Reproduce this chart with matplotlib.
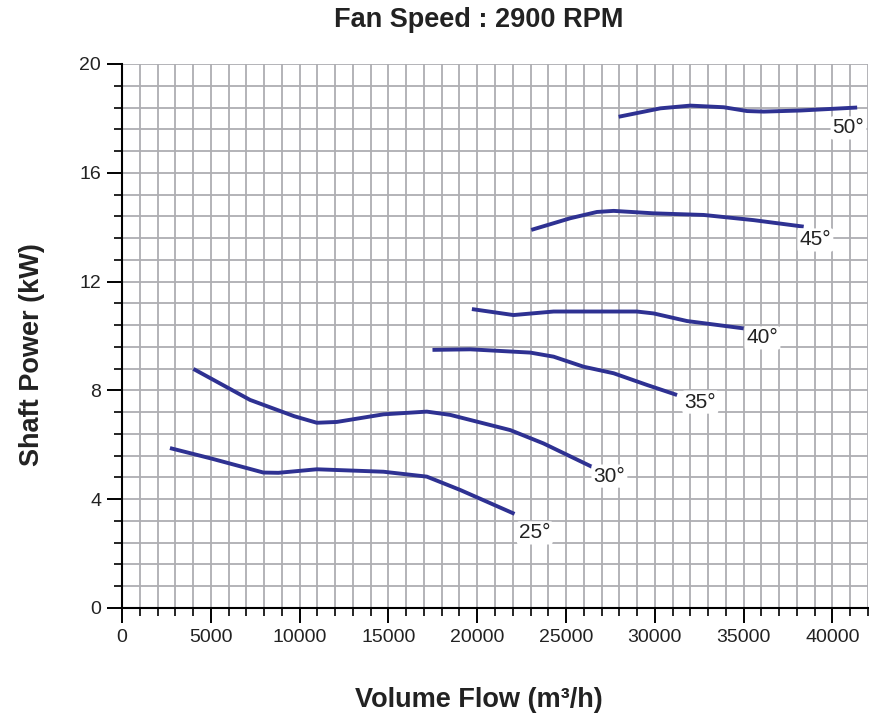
import matplotlib
matplotlib.use("Agg")
import matplotlib.pyplot as plt
from matplotlib.ticker import MultipleLocator
from matplotlib import font_manager

# ---- data ----
flow_25 = [2700, 5000, 7960, 8800, 10970, 14720, 17160, 19040, 22100]
power_25 = [5.88, 5.50, 4.98, 4.97, 5.10, 5.01, 4.83, 4.34, 3.46]

flow_30 = [4020, 7210, 9700, 10970, 12090, 14720, 17160, 18480, 21860, 23730, 26460]
power_30 = [8.79, 7.65, 7.05, 6.81, 6.84, 7.12, 7.22, 7.10, 6.54, 6.05, 5.19]

flow_35 = [17480, 19610, 22990, 24300, 25990, 27680, 29560, 31250]
power_35 = [9.49, 9.51, 9.39, 9.24, 8.87, 8.63, 8.20, 7.83]

flow_40 = [19700, 22040, 24300, 28980, 29930, 31810, 35000]
power_40 = [10.99, 10.77, 10.90, 10.90, 10.83, 10.55, 10.28]

flow_45 = [23040, 25240, 26740, 27680, 29930, 32750, 35560, 38380]
power_45 = [13.90, 14.33, 14.56, 14.60, 14.51, 14.45, 14.26, 14.02]

flow_50 = [27960, 30310, 32000, 33880, 35190, 36130, 38200, 41390]
power_50 = [18.06, 18.37, 18.47, 18.41, 18.27, 18.25, 18.29, 18.40]

curve_labels = ["25°", "30°", "35°", "40°", "45°", "50°"]
label_x = [23240, 27440, 32560, 36060, 39040, 40900]
label_y = [2.76, 4.85, 7.57, 9.93, 13.53, 17.65]

x_ticks = [0, 5000, 10000, 15000, 20000, 25000, 30000, 35000, 40000]
y_ticks = [0, 4, 8, 12, 16, 20]

# ---- fonts ----
def has_font(name):
    try:
        font_manager.findfont(name, fallback_to_default=False)
        return True
    except Exception:
        return False

if has_font("Liberation Sans Narrow"):
    tick_family, tick_size = "Liberation Sans Narrow", 16
else:
    tick_family, tick_size = "Liberation Sans", 14
bold_family = "Liberation Sans"

line_color = "#2e3192"
grid_color = "#aeaeb2"
text_color = "#222222"

fig = plt.figure(figsize=(8.69, 7.2), dpi=100)
ax = fig.add_axes([122 / 869, 1 - 608 / 720, (868 - 122) / 869, (608 - 64) / 720])

series = [(flow_25, power_25), (flow_30, power_30), (flow_35, power_35),
          (flow_40, power_40), (flow_45, power_45), (flow_50, power_50)]
for (fx, py) in series:
    ax.plot(fx, py, color=line_color, lw=2.8, solid_capstyle="butt",
            solid_joinstyle="round", zorder=3)

for lab, lx, ly in zip(curve_labels, label_x, label_y):
    ax.text(lx, ly, lab, ha="center", va="center", family=tick_family,
            fontsize=tick_size + 1, color=text_color, zorder=4,
            bbox=dict(boxstyle="round,pad=0.1", fc="white", ec="none"))

ax.set_xlim(0, 42000)
ax.set_ylim(0, 20)
ax.set_xticks(x_ticks)
ax.set_yticks(y_ticks)
ax.xaxis.set_minor_locator(MultipleLocator(1000))
ax.yaxis.set_minor_locator(MultipleLocator(0.8))
ax.grid(which="both", color=grid_color, lw=1.3, zorder=0)
ax.set_axisbelow(True)

for s in ["top", "right"]:
    ax.spines[s].set_visible(False)
for s in ["left", "bottom"]:
    ax.spines[s].set_linewidth(1.5)
    ax.spines[s].set_color("black")

ax.tick_params(axis="both", which="major", direction="out", length=11, width=1.4,
               labelsize=tick_size, colors="black", labelcolor=text_color, pad=4)
ax.tick_params(axis="both", which="minor", direction="out", length=6, width=1.2,
               colors="black")
for lbl in ax.get_xticklabels() + ax.get_yticklabels():
    lbl.set_family(tick_family)

fig.text(479 / 869, 1 - 20 / 720, "Fan Speed : 2900 RPM", ha="center", va="center",
         family=bold_family, fontweight="bold", fontsize=19.5, color=text_color)
fig.text(479 / 869, 1 - 700 / 720, "Volume Flow (m³/h)", ha="center", va="center",
         family=bold_family, fontweight="bold", fontsize=19.5, color=text_color)
fig.text(32 / 869, 1 - 355 / 720, "Shaft Power (kW)", ha="center", va="center",
         rotation=90, family=bold_family, fontweight="bold", fontsize=19.5, color=text_color)

fig.savefig("out.png", dpi=100)
